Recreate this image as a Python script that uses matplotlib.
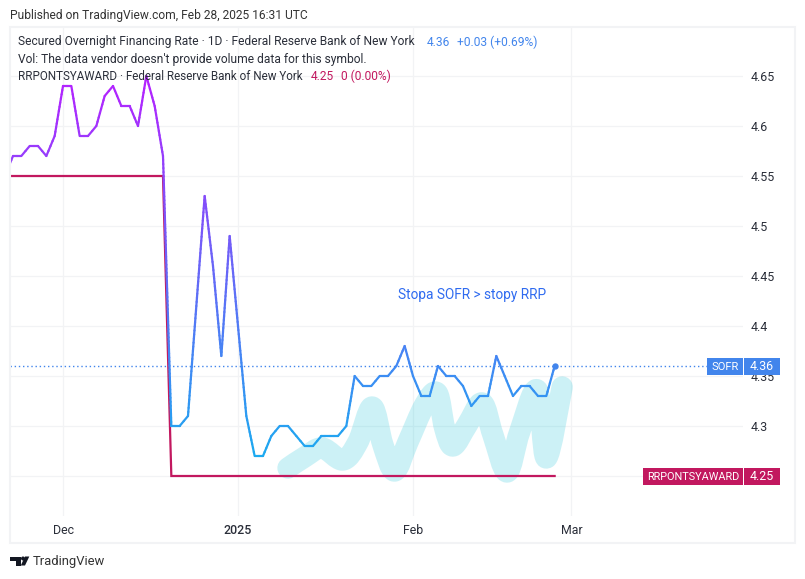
import numpy as np
import matplotlib
matplotlib.use("Agg")
import matplotlib.pyplot as plt
from matplotlib.collections import LineCollection
from matplotlib.patches import Rectangle, PathPatch, Polygon, Circle
from matplotlib.path import Path

plt.rcParams["font.family"] = ["Roboto", "DejaVu Sans"]

# ---- data (x is the trading-day number, Dec 2 2024 = 0) ----
first_bar = -7
sofr = [4.55, 4.57, 4.57, 4.58, 4.58, 4.57, 4.59, 4.64, 4.64, 4.59, 4.59, 4.60,
        4.63, 4.64, 4.62, 4.62, 4.60, 4.65, 4.62, 4.57, 4.30, 4.30, 4.31, 4.42,
        4.53, 4.46, 4.37, 4.49, 4.40, 4.31, 4.27, 4.27, 4.29, 4.30, 4.30, 4.29,
        4.28, 4.28, 4.29, 4.29, 4.29, 4.30, 4.35, 4.34, 4.34, 4.35, 4.35, 4.36,
        4.38, 4.35, 4.33, 4.33, 4.36, 4.35, 4.35, 4.34, 4.32, 4.33, 4.33, 4.37,
        4.35, 4.33, 4.34, 4.34, 4.33, 4.33, 4.36]
rrp = [4.55] * 20 + [4.25] * 47
brush_bar = [27.0, 29.0, 31.1, 33.6, 35.4, 37.1, 38.4, 39.8, 41.4, 43.4, 44.9,
             45.8, 46.8, 48.5, 50.3, 51.6, 53.3, 54.8, 56.9, 58.0, 59.9]
brush_rate = [4.258, 4.269, 4.278, 4.266, 4.284, 4.319, 4.281, 4.255, 4.284,
              4.321, 4.333, 4.298, 4.280, 4.301, 4.323, 4.291, 4.254, 4.294,
              4.336, 4.268, 4.339]
y_ticks = [4.25, 4.30, 4.35, 4.40, 4.45, 4.50, 4.55, 4.60, 4.65]
y_tick_labels = ["4.25", "4.3", "4.35", "4.4", "4.45", "4.5", "4.55", "4.6", "4.65"]
x_ticks = [0, 21, 42, 61]
x_tick_labels = ["Dec", "2025", "Feb", "Mar"]

# ---- style ----
W, H = 805, 579
GRID = "#f2f3f5"
TXT = "#2a2e39"
BLUE = "#4285ec"
RED = "#c2185f"
BAR_PX = 8.333

fig = plt.figure(figsize=(W / 100, H / 100), dpi=100, facecolor="white")
L, R, T, B = 10, 743, 28, 516
ax = fig.add_axes([L / W, 1 - B / H, (R - L) / W, (B - T) / H])
ax.set_xlim((L - 63) / BAR_PX, (R - 63) / BAR_PX)
ax.set_ylim(4.65 - (B - 76) / 1000, 4.65 - (T - 76) / 1000)
for s in ax.spines.values():
    s.set_visible(False)
ax.set_yticks(y_ticks, y_tick_labels)
ax.set_xticks(x_ticks, x_tick_labels)
ax.yaxis.tick_right()
ax.tick_params(axis="y", length=0, pad=5.8, labelsize=8.9, labelcolor=TXT)
ax.tick_params(axis="x", length=0, pad=5.5, labelsize=8.9, labelcolor=TXT)
ax.get_xticklabels()[1].set_fontweight(500)
ax.grid(True, color=GRID, lw=0.9, zorder=0)
ax.set_axisbelow(True)

x = first_bar + np.arange(len(sofr))
y = np.array(sofr)

# hand-drawn brush annotation: smooth curve through the stroke's centre line
bx, by = np.array(brush_bar), np.array(brush_rate)
verts, codes = [(bx[0], by[0])], [Path.MOVETO]
for k in range(len(bx) - 1):
    a, b = max(k - 1, 0), min(k + 2, len(bx) - 1)
    c1 = (bx[k] + (bx[k + 1] - bx[a]) / 6, by[k] + (by[k + 1] - by[a]) / 6)
    c2 = (bx[k + 1] - (bx[b] - bx[k]) / 6, by[k + 1] - (by[b] - by[k]) / 6)
    verts += [c1, c2, (bx[k + 1], by[k + 1])]
    codes += [Path.CURVE4] * 3
ax.add_patch(PathPatch(Path(verts, codes), fill=False, edgecolor="#00bcd4", alpha=0.2,
                       lw=15.4, capstyle="round", joinstyle="round", zorder=1))

# RRP line
ax.plot(x, rrp, color=RED, lw=1.6, zorder=2, solid_joinstyle="miter")

# SOFR line: colour runs from violet at the top to light blue at the bottom,
# by height, so each segment is cut into short pieces for colouring only
top, bot = np.array([182, 32, 255]) / 255, np.array([28, 170, 240]) / 255
segs, cols = [], []
for k in range(len(x) - 1):
    n = max(2, int(abs(y[k + 1] - y[k]) / 0.004))
    tt = np.linspace(0, 1, n + 1)
    xs = x[k] + (x[k + 1] - x[k]) * tt
    ys = y[k] + (y[k + 1] - y[k]) * tt
    for j in range(n):
        segs.append([(xs[j], ys[j]), (xs[j + 1], ys[j + 1])])
        f = np.clip((4.65 - (ys[j] + ys[j + 1]) / 2) / 0.38, 0, 1)
        cols.append(top + (bot - top) * f)
ax.add_collection(LineCollection(segs, colors=cols, linewidths=1.6, capstyle="round", zorder=3))

# last-value line and dot
ax.axhline(sofr[-1], color=BLUE, lw=1.0, ls=(0, (1, 2)), zorder=2)
ax.plot(x[-1], sofr[-1], "o", color=BLUE, ms=4.6, mew=0, zorder=4)

# overlay in pixel coordinates for the page furniture
ov = fig.add_axes([0, 0, 1, 1], facecolor="none")
ov.set_xlim(0, W)
ov.set_ylim(H, 0)
ov.axis("off")
ov.add_patch(Rectangle((9.5, 27), 785, 516, fill=False, ec=GRID, lw=1.5))

FS = 8.65
def t(px, py, s, color=TXT, size=FS, **kw):
    kw.setdefault("ha", "left")
    ov.text(px, py, s, color=color, fontsize=size, va="center", **kw)

t(10, 15, "Published on TradingView.com, Feb 28, 2025 16:31 UTC", "#333333")
t(18, 42, "Secured Overnight Financing Rate · 1D · Federal Reserve Bank of New York")
t(427, 42, "4.36", BLUE)
t(457, 42, "+0.03 (+0.69%)", BLUE)
t(18, 59, "Vol: The data vendor doesn't provide volume data for this symbol.")
t(18, 76, "RRPONTSYAWARD · Federal Reserve Bank of New York", size=8.4)
t(311, 76, "4.25", RED)
t(341, 76, "0 (0.00%)", RED)
t(398, 295, "Stopa SOFR > stopy RRP", "#2f6bf0", size=9.8)

def tag(x0, x1, y0, y1, s, col, size=8.9):
    ov.add_patch(Rectangle((x0, y0), x1 - x0, y1 - y0, fc=col, ec="none", zorder=5))
    ov.text((x0 + x1) / 2, (y0 + y1) / 2, s, color="white", fontsize=size, ha="center",
            va="center", zorder=6)

tag(707, 743, 358, 375, "SOFR", BLUE, 8.1)
tag(744, 780, 358, 375, "4.36", BLUE)
tag(643, 743, 468, 485, "RRPONTSYAWARD", RED, 7.8)
tag(744, 780, 468, 485, "4.25", RED)

# TradingView logo and wordmark
ov.add_patch(Polygon([(10, 556.5), (20.5, 556.5), (20.5, 565.5), (15.5, 565.5),
                      (15.5, 560.5), (10, 560.5)], fc="#131722", ec="none"))
ov.add_patch(Circle((23, 558.5), 2, fc="#131722", ec="none"))
ov.add_patch(Polygon([(25, 556.5), (29.3, 556.5), (25, 565.5), (20.8, 565.5)],
                     fc="#131722", ec="none"))
t(33, 561, "TradingView", "#333333", size=9.4)

fig.savefig("out.png", dpi=100)
